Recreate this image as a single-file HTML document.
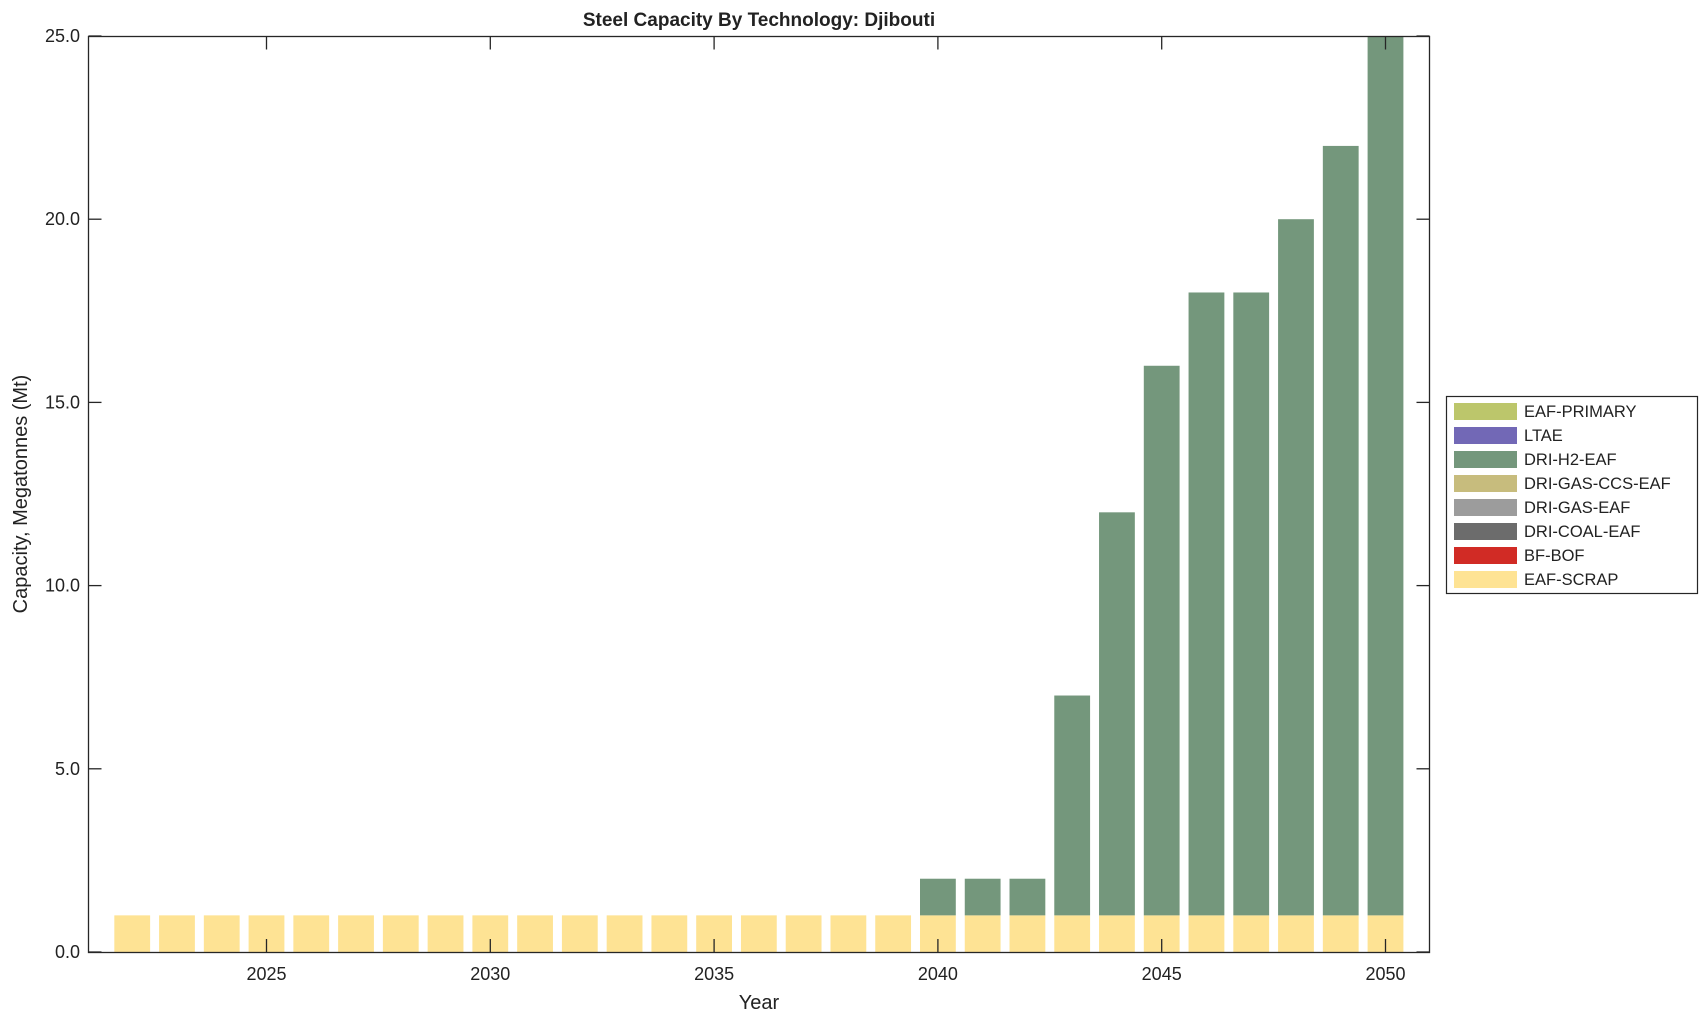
<!DOCTYPE html>
<html><head><meta charset="utf-8"><style>
body{margin:0;background:#fff;}
svg text{font-family:"Liberation Sans",Arial,sans-serif;fill:#222;}
</style></head><body>
<svg id="chart" width="1708" height="1021" xmlns="http://www.w3.org/2000/svg">
<text x="759" y="26" text-anchor="middle" font-size="19" font-weight="bold">Steel Capacity By Technology: Djibouti</text>
<g id="bars"></g>
<rect x="88.5" y="36.5" width="1341" height="916" fill="none" stroke="#262626" stroke-width="1.3"/>
<g id="axes"></g>
<text x="759" y="1009" text-anchor="middle" font-size="20">Year</text>
<text transform="translate(27,494) rotate(-90)" text-anchor="middle" font-size="20">Capacity, Megatonnes (Mt)</text>
<g id="legend">
<rect x="1446.5" y="396.5" width="251" height="197" fill="#fff" stroke="#262626" stroke-width="1.2"/>
</g>
</svg>
<script>
const years=[2022,2023,2024,2025,2026,2027,2028,2029,2030,2031,2032,2033,2034,2035,2036,2037,2038,2039,2040,2041,2042,2043,2044,2045,2046,2047,2048,2049,2050];
const eafScrap=[1,1,1,1,1,1,1,1,1,1,1,1,1,1,1,1,1,1,1,1,1,1,1,1,1,1,1,1,1];
const driH2=[0,0,0,0,0,0,0,0,0,0,0,0,0,0,0,0,0,0,1,1,1,6,11,15,17,17,19,21,24];
const seriesNames=["EAF-PRIMARY","LTAE","DRI-H2-EAF","DRI-GAS-CCS-EAF","DRI-GAS-EAF","DRI-COAL-EAF","BF-BOF","EAF-SCRAP"];
const seriesColors=["#bcc66b","#7268b6","#74977c","#c7bc7d","#9c9c9c","#6c6c6c","#d12b25","#fee394"];
const yTicks=[0,5,10,15,20,25];
const xTicks=[2025,2030,2035,2040,2045,2050];
const NS="http://www.w3.org/2000/svg";
const xS=y=>266.5+(y-2025)*44.76;
const yS=v=>952-v*36.64;
const bw=35.8;
const bars=document.getElementById('bars');
function rect(x,y,w,h,f){const r=document.createElementNS(NS,'rect');r.setAttribute('x',x);r.setAttribute('y',y);r.setAttribute('width',w);r.setAttribute('height',h);r.setAttribute('fill',f);return r;}
years.forEach((yr,i)=>{
  const a=rect(xS(yr)-bw/2,yS(eafScrap[i]),bw,yS(0)-yS(eafScrap[i]),seriesColors[7]);
  
  
  bars.appendChild(a);
  if(driH2[i]>0){
    const b=rect(xS(yr)-bw/2,yS(eafScrap[i]+driH2[i]),bw,yS(eafScrap[i])-yS(eafScrap[i]+driH2[i]),seriesColors[2]);
    
    
    bars.appendChild(b);
  }
});
const axes=document.getElementById('axes');
function line(x1,y1,x2,y2){const l=document.createElementNS(NS,'line');l.setAttribute('x1',x1);l.setAttribute('y1',y1);l.setAttribute('x2',x2);l.setAttribute('y2',y2);l.setAttribute('stroke','#262626');l.setAttribute('stroke-width','1.3');return l;}
function text(x,y,s,anchor,size){const t=document.createElementNS(NS,'text');t.setAttribute('x',x);t.setAttribute('y',y);t.setAttribute('text-anchor',anchor);t.setAttribute('font-size',size);t.textContent=s;return t;}
yTicks.forEach(v=>{
  const l1=line(88.5,yS(v),101.5,yS(v));
  
  
  axes.appendChild(l1);
  const l2=line(1416.5,yS(v),1429.5,yS(v));
  
  
  axes.appendChild(l2);
  const t=text(80,yS(v)+6,v.toFixed(1),'end',18);
  
  
  axes.appendChild(t);
});
xTicks.forEach(v=>{
  const l1=line(xS(v),952,xS(v),939);
  
  
  axes.appendChild(l1);
  const l2=line(xS(v),36.5,xS(v),49.5);
  
  
  axes.appendChild(l2);
  const t=text(xS(v),980,String(v),'middle',18);
  
  
  axes.appendChild(t);
});
const leg=document.getElementById('legend');
seriesNames.forEach((n,i)=>{
  const cy=411+i*24;
  const s=rect(1454,cy-8,63,17,seriesColors[i]);
  
  
  leg.appendChild(s);
  const t=text(1524,cy+6,n,'start',16.5);
  
  
  leg.appendChild(t);
});
</script>
</body></html>
